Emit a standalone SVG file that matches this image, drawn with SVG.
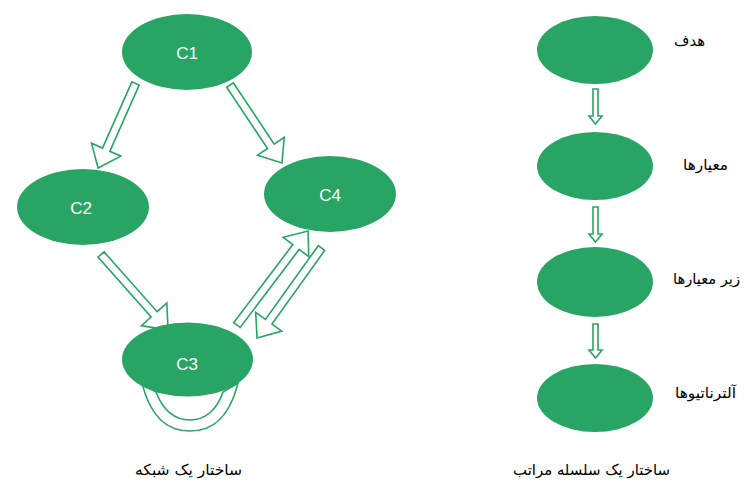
<svg xmlns="http://www.w3.org/2000/svg" width="755" height="495" viewBox="0 0 755 495">
<style>
.node{fill:#28A464;}
.lbl{font-family:"Liberation Sans",Arial,sans-serif;font-size:17px;fill:#ffffff;text-anchor:middle;dominant-baseline:central;}
.fa{font-family:"DejaVu Sans","Noto Sans",sans-serif;font-size:15px;fill:#000000;text-anchor:middle;}
.arr{fill:#ffffff;stroke:#28A464;stroke-width:1.6;stroke-linejoin:miter;}
</style>
<rect width="755" height="495" fill="#ffffff"/>
<g id="connectors">
<path class="arr" d="M142,383 C152,423 172,431 190,431 C208,431 228,423 238,383 L223,392 C217,410 205,420 190,420 C175,420 163,410 156,392 Z"/>
<polygon class="arr" transform="translate(135.5,83.5) rotate(113.9)" points="0,-4 72.4,-4 72.4,-16 92.4,0 72.4,16 72.4,4 0,4"/>
<polygon class="arr" transform="translate(230,85) rotate(56.3)" points="0,-4 73.7,-4 73.7,-16 93.7,0 73.7,16 73.7,4 0,4"/>
<polygon class="arr" transform="translate(101,254.5) rotate(48.4)" points="0,-4 80,-4 80,-17 101,0 80,17 80,4 0,4"/>
<polygon class="arr" transform="translate(237,325) rotate(-52.9)" points="0,-4 97.8,-4 97.8,-16 117.8,0 97.8,16 97.8,4 0,4"/>
<polygon class="arr" transform="translate(321.5,248) rotate(125.6)" points="0,-4 90.7,-4 90.7,-16 110.7,0 90.7,16 90.7,4 0,4"/>
<polygon class="arr" transform="translate(595.5,89) rotate(90)" points="0,-2.5 27,-2.5 27,-6.5 35,0 27,6.5 27,2.5 0,2.5"/>
<polygon class="arr" transform="translate(595.5,207) rotate(90)" points="0,-2.5 27,-2.5 27,-6.5 35,0 27,6.5 27,2.5 0,2.5"/>
<polygon class="arr" transform="translate(595.5,324) rotate(90)" points="0,-2.5 26,-2.5 26,-6.5 34,0 26,6.5 26,2.5 0,2.5"/>
</g>
<g id="C1"><ellipse class="node" cx="187" cy="52" rx="65" ry="38"/><text class="lbl" x="187" y="53">C1</text></g>
<g id="C2"><ellipse class="node" cx="83" cy="207" rx="66" ry="38"/><text class="lbl" x="81" y="208">C2</text></g>
<g id="C4"><ellipse class="node" cx="330" cy="194" rx="66" ry="38"/><text class="lbl" x="330" y="195">C4</text></g>
<g id="C3"><ellipse class="node" cx="187.5" cy="359.5" rx="65.5" ry="37"/><text class="lbl" x="187" y="364">C3</text></g>
<g id="H1"><ellipse class="node" cx="595" cy="50" rx="58" ry="34"/><text class="fa" x="689.5" y="46" textLength="31" lengthAdjust="spacingAndGlyphs">هدف</text></g>
<g id="H2"><ellipse class="node" cx="595" cy="166" rx="58" ry="34"/><text class="fa" x="705.5" y="170" textLength="45" lengthAdjust="spacingAndGlyphs">معیارها</text></g>
<g id="H3"><ellipse class="node" cx="595" cy="282" rx="58" ry="35"/><text class="fa" x="706.5" y="284" textLength="67" lengthAdjust="spacingAndGlyphs">زیر معیارها</text></g>
<g id="H4"><ellipse class="node" cx="595" cy="398" rx="58" ry="34"/><text class="fa" x="705.5" y="398" textLength="61" lengthAdjust="spacingAndGlyphs">آلترناتیوها</text></g>
<text class="fa" x="188.5" y="475" textLength="107" lengthAdjust="spacingAndGlyphs">ساختار یک شبکه</text>
<text class="fa" x="591.5" y="475" textLength="157" lengthAdjust="spacingAndGlyphs">ساختار یک سلسله مراتب</text>
</svg>
